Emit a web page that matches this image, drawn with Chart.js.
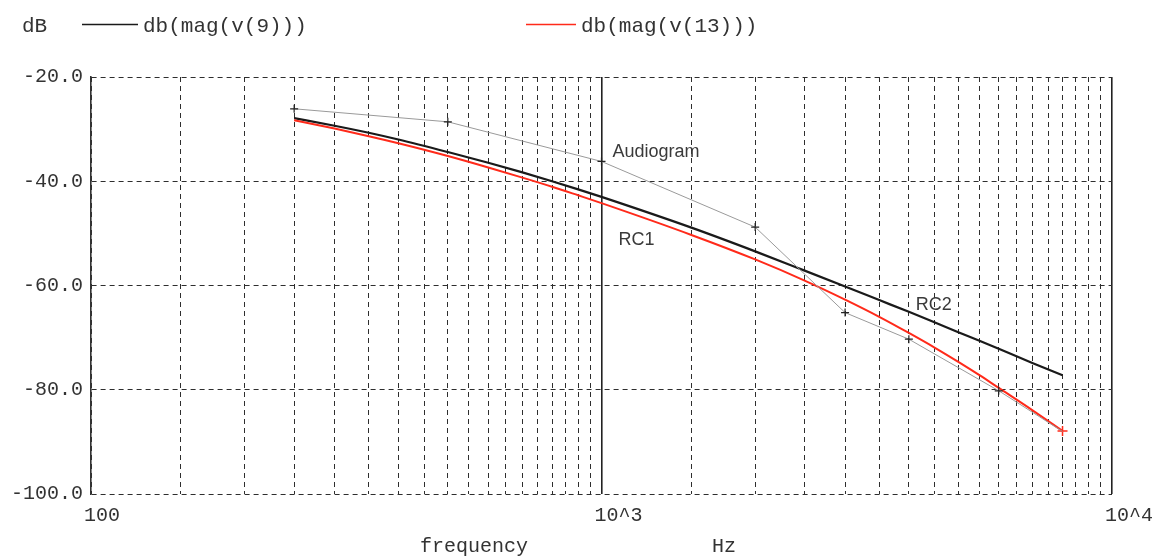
<!DOCTYPE html>
<html>
<head>
<meta charset="utf-8">
<script src="https://cdn.jsdelivr.net/npm/chart.js@4.4.1/dist/chart.umd.min.js"></script>
<style>
  html, body { margin: 0; padding: 0; background: #ffffff; }
  #wrap { width: 1156px; height: 556px; position: relative; }
</style>
</head>
<body>
<div id="wrap"><canvas id="c" width="1156" height="556"></canvas></div>
<script>
// ---- data ----
const curveFreqs = [250, 300, 350, 400, 500, 600, 700, 800, 900, 1000, 1500, 2000, 2500, 3000, 3500, 4000, 4500, 5000, 5500, 6000, 7000, 8000];
const v9dB  = [-27.9, -29.35, -30.7, -32.0, -34.4, -36.45, -38.3, -40.0, -41.55, -43.0, -48.9, -53.45, -57.15, -60.2, -62.8, -65.05, -67.1, -68.95, -70.6, -72.15, -74.9, -77.2];
const v13dB = [-28.3, -29.9, -31.35, -32.7, -35.15, -37.35, -39.3, -41.05, -42.7, -44.2, -50.3, -55.0, -59.05, -62.7, -66.0, -69.1, -71.95, -74.65, -77.2, -79.65, -84.0, -87.9];
const audioFreqs = [250, 500, 1000, 2000, 3000, 4000, 6000, 8000];
const audioDB    = [-26.1, -28.6, -36.2, -48.8, -65.2, -70.3, -80.2, -88.0];
const xGridValues = [100, 150, 200, 250, 300, 350, 400, 450, 500, 550, 600, 650, 700, 750, 800, 850, 900, 950,
                     1000, 1500, 2000, 2500, 3000, 3500, 4000, 4500, 5000, 5500, 6000, 6500, 7000, 7500, 8000, 8500, 9000, 9500, 10000];
const xTickLabels = [{ value: 100, text: '100' }, { value: 1000, text: '10^3' }, { value: 10000, text: '10^4' }];
const yTicks = [-20, -40, -60, -80, -100];
const legendItems = [
  { text: 'db(mag(v(9)))',  color: '#1a1a1a' },
  { text: 'db(mag(v(13)))', color: '#ff2a1a' }
];
const curveLabels = [
  { text: 'Audiogram', x: 1051, y: -34.4 },
  { text: 'RC1',       x: 1080, y: -51.3 },
  { text: 'RC2',       x: 4128, y: -63.7 }
];

const toPts = (xs, ys) => xs.map((x, i) => ({ x: x, y: ys[i] }));

const MONO = '"Liberation Mono", "DejaVu Sans Mono", monospace';
const SANS = '"Liberation Sans", Arial, sans-serif';

const decorPlugin = {
  id: 'decor',
  afterDraw(chart) {
    const { ctx, scales: { x, y } } = chart;
    ctx.save();
    // curve labels
    ctx.font = '18px ' + SANS;
    ctx.fillStyle = '#3a3a3a';
    ctx.textAlign = 'left';
    ctx.textBaseline = 'middle';
    curveLabels.forEach(l => ctx.fillText(l.text, x.getPixelForValue(l.x), y.getPixelForValue(l.y)));
    // x tick labels
    ctx.font = '20px ' + MONO;
    ctx.fillStyle = '#333';
    xTickLabels.forEach(t => ctx.fillText(t.text, x.getPixelForValue(t.value) - 7, y.bottom + 22));
    // axis titles
    ctx.fillText('frequency', 420, 547);
    ctx.fillText('Hz', 712, 547);
    // legend
    ctx.font = '21px ' + MONO;
    ctx.fillText('dB', 22, 26);
    const lx = [82, 526], lw = [56, 50];
    legendItems.forEach((it, i) => {
      ctx.strokeStyle = it.color;
      ctx.lineWidth = 1.5;
      ctx.beginPath();
      ctx.moveTo(lx[i], 24.5);
      ctx.lineTo(lx[i] + lw[i], 24.5);
      ctx.stroke();
      ctx.fillStyle = '#333';
      ctx.fillText(it.text, lx[i] + lw[i] + 5, 26);
    });
    ctx.restore();
  }
};

new Chart(document.getElementById('c'), {
  type: 'line',
  data: {
    datasets: [
      {
        label: 'Audiogram',
        data: toPts(audioFreqs, audioDB),
        borderColor: '#9a9a9a',
        borderWidth: 1,
        pointStyle: 'cross',
        pointRadius: ctx => (ctx.dataIndex === audioFreqs.length - 1 ? 0 : 4),
        pointBorderColor: '#222',
        pointBorderWidth: 1.2,
        tension: 0,
        order: 0
      },
      {
        label: 'db(mag(v(13)))',
        data: toPts(curveFreqs, v13dB),
        borderColor: '#ff2a1a',
        borderWidth: 2,
        pointStyle: 'cross',
        pointRadius: ctx => (ctx.dataIndex === curveFreqs.length - 1 ? 5 : 0),
        pointBorderColor: '#ff2a1a',
        pointBorderWidth: 1.5,
        cubicInterpolationMode: 'monotone',
        order: 1
      },
      {
        label: 'db(mag(v(9)))',
        data: toPts(curveFreqs, v9dB),
        borderColor: '#1a1a1a',
        borderWidth: 2.2,
        pointRadius: 0,
        cubicInterpolationMode: 'monotone',
        order: 2
      }
    ]
  },
  options: {
    responsive: false,
    animation: false,
    events: [],
    layout: { padding: { top: 77, right: 44, left: 0, bottom: 0 } },
    plugins: { legend: { display: false }, tooltip: { enabled: false } },
    scales: {
      x: {
        type: 'logarithmic',
        min: 100,
        max: 10000,
        afterBuildTicks: s => { s.ticks = xGridValues.map(v => ({ value: v })); },
        afterFit: s => { s.height = 62; },
        ticks: { display: false, autoSkip: false },
        grid: {
          drawTicks: false,
          color: ctx => (ctx.tick && (ctx.tick.value === 1000 || ctx.tick.value === 10000) ? '#222' : '#2e2e2e'),
          lineWidth: ctx => (ctx.tick && (ctx.tick.value === 1000 || ctx.tick.value === 10000) ? 1.6 : 1)
        },
        border: {
          display: false,
          dash: ctx => (ctx.tick && (ctx.tick.value === 1000 || ctx.tick.value === 10000) ? [] : [5, 4])
        }
      },
      y: {
        type: 'linear',
        min: -100,
        max: -20,
        afterBuildTicks: s => { s.ticks = yTicks.map(v => ({ value: v })); },
        afterFit: s => { s.width = 91; },
        ticks: {
          padding: 8,
          color: '#333',
          font: { family: MONO, size: 20 },
          callback: v => Number(v).toFixed(1)
        },
        grid: { drawTicks: false, color: '#2e2e2e', lineWidth: 1 },
        border: { display: true, color: '#333', width: 1.6, dash: [5, 4] }
      }
    }
  },
  plugins: [decorPlugin]
});
</script>
</body>
</html>
